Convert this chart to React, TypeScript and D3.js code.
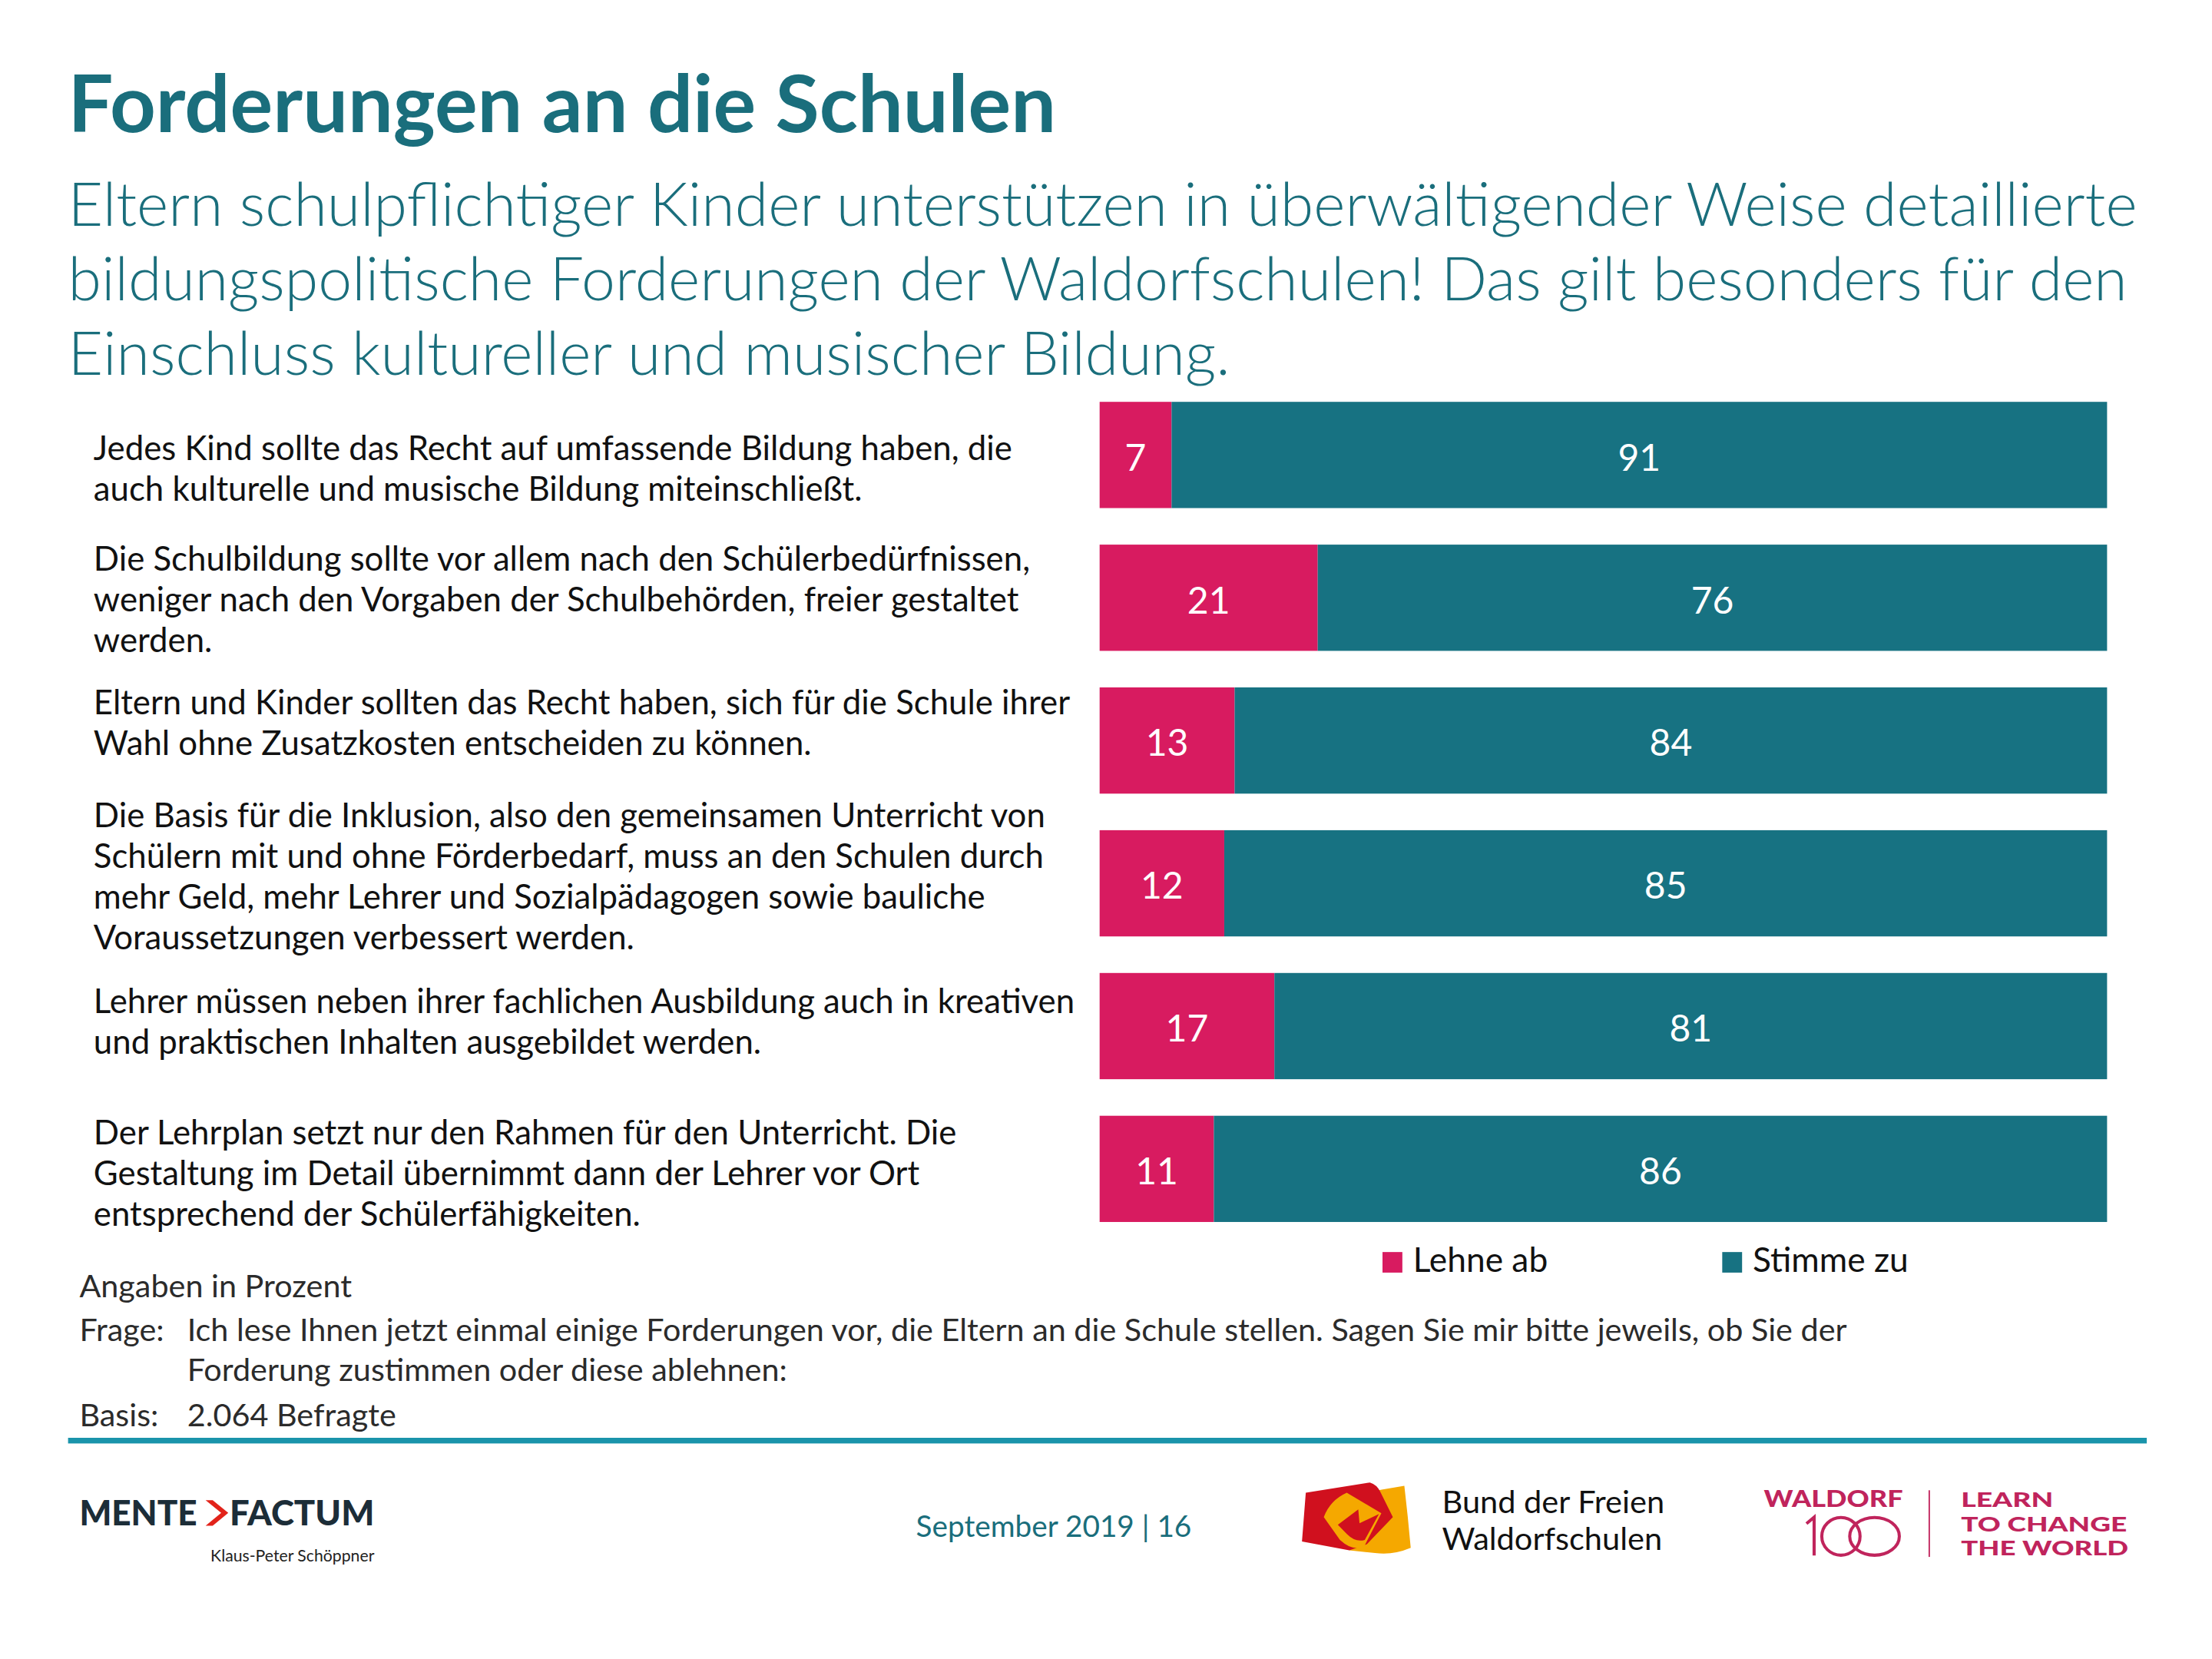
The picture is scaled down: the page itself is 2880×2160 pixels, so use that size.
import React from 'react';
import * as d3 from 'd3';

const statements: string[][] = [
  ['Jedes Kind sollte das Recht auf umfassende Bildung haben, die', 'auch kulturelle und musische Bildung miteinschließt.'],
  ['Die Schulbildung sollte vor allem nach den Schülerbedürfnissen,', 'weniger nach den Vorgaben der Schulbehörden, freier gestaltet', 'werden.'],
  ['Eltern und Kinder sollten das Recht haben, sich für die Schule ihrer', 'Wahl ohne Zusatzkosten entscheiden zu können.'],
  ['Die Basis für die Inklusion, also den gemeinsamen Unterricht von', 'Schülern mit und ohne Förderbedarf, muss an den Schulen durch', 'mehr Geld, mehr Lehrer und Sozialpädagogen sowie bauliche', 'Voraussetzungen verbessert werden.'],
  ['Lehrer müssen neben ihrer fachlichen Ausbildung auch in kreativen', 'und praktischen Inhalten ausgebildet werden.'],
  ['Der Lehrplan setzt nur den Rahmen für den Unterricht. Die', 'Gestaltung im Detail übernimmt dann der Lehrer vor Ort', 'entsprechend der Schülerfähigkeiten.'],
];
const lehneAb = [7, 21, 13, 12, 17, 11];
const stimmeZu = [91, 76, 84, 85, 81, 86];
const seriesNames = ['Lehne ab', 'Stimme zu'];

const title = 'Forderungen an die Schulen';
const subtitle = [
  'Eltern schulpflichtiger Kinder unterstützen in überwältigender Weise detaillierte',
  'bildungspolitische Forderungen der Waldorfschulen! Das gilt besonders für den',
  'Einschluss kultureller und musischer Bildung.',
];
const frage = [
  'Ich lese Ihnen jetzt einmal einige Forderungen vor, die Eltern an die Schule stellen. Sagen Sie mir bitte jeweils, ob Sie der',
  'Forderung zustimmen oder diese ablehnen:',
];

// small vertical nudges of the label blocks, as in the slide
const labelShift = [11.7, 3.7, -10.3, -2.3, -0.8, 5.2];

const PINK = '#d81b60';
const TEAL = '#177282';
const HEAD = '#1a6e7c';
const MAG = '#c0245c';
const FONT = "Lato, 'Open Sans', sans-serif";

export default function App() {
  const rows = statements.map((s, i) => ({ i, lehne: lehneAb[i], stimme: stimmeZu[i] }));
  const stacked = d3.stack<any>().keys(['lehne', 'stimme']).offset(d3.stackOffsetExpand)(rows);

  const x = d3.scaleLinear().domain([0, 1]).range([775.5, 1486]);
  const y = d3.scaleBand<number>()
    .domain(d3.range(statements.length))
    .range([283.4, 861.8])
    .paddingInner(0.256)
    .paddingOuter(0);
  const color = d3.scaleOrdinal<string, string>().domain(['lehne', 'stimme']).range([PINK, TEAL]);
  const lineH = 28.7;

  return (
    <div style={{ position: 'absolute', left: 0, top: 0 }}>
      <svg width={2880} height={2160} viewBox="0 0 1560 1170" style={{ display: 'block', background: '#fff' }} fontFamily={FONT}>
        <rect width={1560} height={1170} fill="#fff" />
        <text x={48} y={93} fontSize={56.5} fontWeight={700} fill={HEAD}>{title}</text>
        {subtitle.map((t, k) => (
          <text key={k} x={48} y={159.4 + k * 52.5} fontSize={42.7} fontWeight={300} fill={HEAD}>{t}</text>
        ))}

        {/* statement labels */}
        {statements.map((lines, i) => {
          const c = (y(i) as number) + y.bandwidth() / 2;
          const first = c - ((lines.length - 1) * lineH) / 2 + 6 + labelShift[i];
          return (
            <text key={i} x={66} fontSize={23.7} fill="#111">
              {lines.map((l, k) => (
                <tspan key={k} x={66} y={first + k * lineH}>{l}</tspan>
              ))}
            </text>
          );
        })}

        {/* bars */}
        {stacked.map((layer) => (
          <g key={layer.key} fill={color(layer.key)}>
            {layer.map((d, i) => (
              <rect key={i} x={x(d[0])} y={y(i)} width={x(d[1]) - x(d[0])} height={y.bandwidth()} />
            ))}
          </g>
        ))}
        {stacked.map((layer) => (
          <g key={layer.key + 't'} fill="#fff" fontSize={26} textAnchor="middle">
            {layer.map((d, i) => (
              <text key={i} x={(x(d[0]) + x(d[1])) / 2} y={(y(i) as number) + y.bandwidth() / 2 + 11}>
                {(d.data as any)[layer.key]}
              </text>
            ))}
          </g>
        ))}

        {/* legend */}
        {seriesNames.map((n, k) => {
          const lx = [975, 1214.6][k];
          return (
            <g key={n}>
              <rect x={lx} y={883} width={14} height={14.5} fill={[PINK, TEAL][k]} />
              <text x={lx + 21.5} y={897} fontSize={24} fill="#111">{n}</text>
            </g>
          );
        })}

        {/* notes */}
        <g fontSize={22.4} fill="#2b2b2b">
          <text x={56} y={915}>Angaben in Prozent</text>
          <text x={56} y={946}>Frage:</text>
          <text x={132} y={946}>{frage[0]}</text>
          <text x={132} y={974}>{frage[1]}</text>
          <text x={56} y={1006}>Basis:</text>
          <text x={132} y={1006}>2.064 Befragte</text>
        </g>
        <rect x={48} y={1014} width={1466} height={4} fill="#1a94ab" />

        {/* footer */}
        <g fontSize={25} fontWeight={900} fill="#1c2d38">
          <text x={56} y={1076} textLength={83} lengthAdjust="spacingAndGlyphs">MENTE</text>
          <text x={162} y={1076} textLength={102} lengthAdjust="spacingAndGlyphs">FACTUM</text>
        </g>
        <path d="M145,1058 L156,1067 L145,1076 L150,1076 L161,1067 L150,1058 Z" fill="#e2231a" />
        <text x={264} y={1101} fontSize={11.5} fill="#222" textAnchor="end">Klaus-Peter Schöppner</text>
        <text x={646} y={1084} fontSize={21} fill={HEAD}>September 2019 | 16</text>

        <g>
          <path d="M972,1051 L990.4,1047.9 Q993,1070 994.9,1091.6 Q982,1097 969.7,1095.2 L951.6,1093.4 Z" fill="#f5a800" />
          <path d="M920.9,1052.7 L966.1,1045.5 Q971,1047 973.3,1051.8 L982.3,1069.9 L964,1089 L951.6,1093.4 L918.2,1087.1 Z" fill="#d0101e" />
          <path d="M933.6,1069.9 Q938,1058 949.8,1052.7 L974.2,1067.2 L962.5,1089.8 Q955,1095 945,1086 Z" fill="#f5a800" />
          <path d="M943.5,1075.3 L957.9,1064.5 L958.8,1074.2 L972.5,1067.8 L962.5,1086 Q956,1088 950,1082 Z" fill="#d0101e" />
        </g>
        <text x={1017} y={1067} fontSize={22.5} fill="#111">Bund der Freien</text>
        <text x={1017} y={1093} fontSize={22.5} fill="#111">Waldorfschulen</text>

        <g fill={MAG} fontWeight={900}>
          <text x={1244} y={1063} fontSize={16} textLength={98} lengthAdjust="spacingAndGlyphs">WALDORF</text>
          <text x={1383} y={1063} fontSize={14.5} textLength={65} lengthAdjust="spacingAndGlyphs">LEARN</text>
          <text x={1383} y={1080} fontSize={14.5} textLength={117} lengthAdjust="spacingAndGlyphs">TO CHANGE</text>
          <text x={1383} y={1097} fontSize={14.5} textLength={118} lengthAdjust="spacingAndGlyphs">THE WORLD</text>
        </g>
        <g fill="none" stroke={MAG} strokeWidth={2.2}>
          <path d="M1279.4,1097 L1279.4,1070 L1274,1074.5" />
          <ellipse cx={1298.3} cy={1083.5} rx={13.5} ry={13.3} />
          <ellipse cx={1322} cy={1083.5} rx={17.5} ry={13.3} />
        </g>
        <line x1={1360.6} y1={1051} x2={1360.6} y2={1098} stroke={MAG} strokeWidth={1} />
      </svg>
    </div>
  );
}
